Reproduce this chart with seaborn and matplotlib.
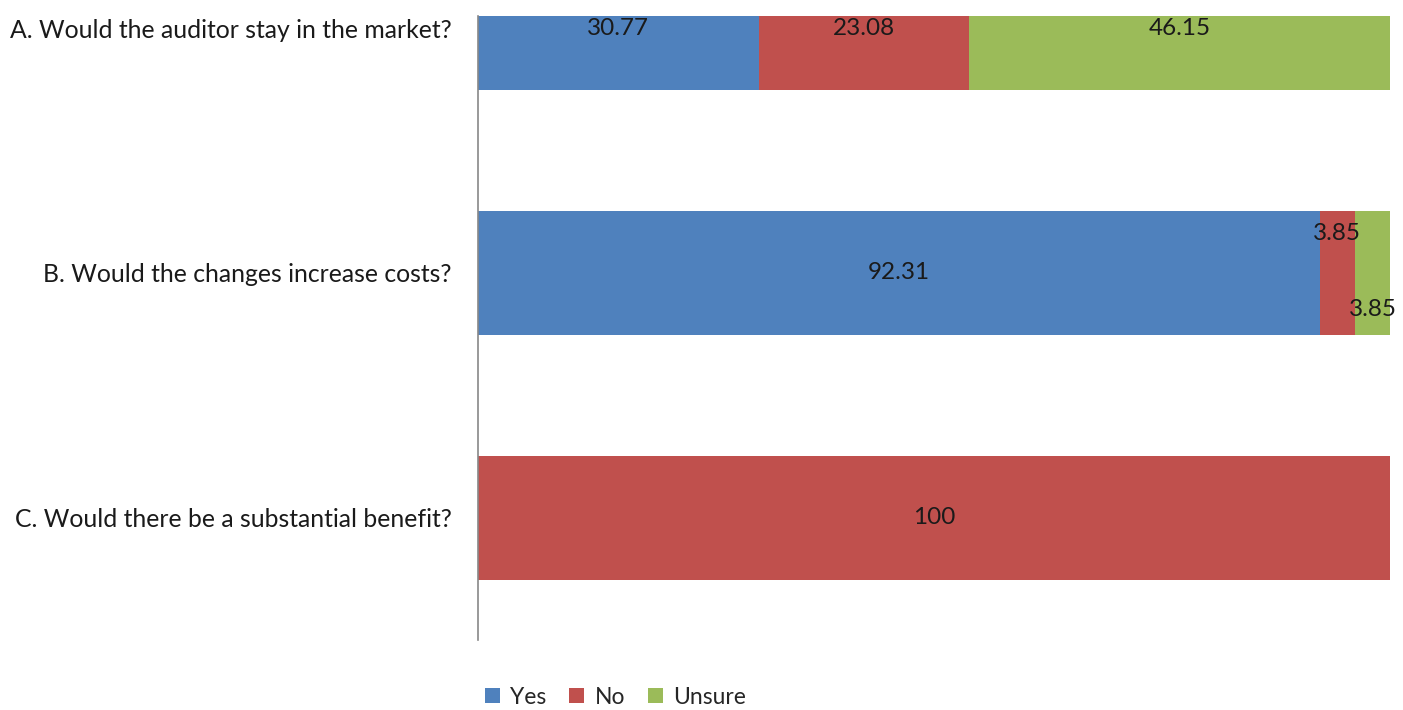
import numpy as np
import pandas as pd
import matplotlib
matplotlib.use("Agg")
import matplotlib.pyplot as plt
import seaborn as sns
from matplotlib.patches import Patch

questions = ["A. Would the auditor stay in the market?",
             "B. Would the changes increase costs?",
             "C. Would there be a substantial benefit?"]
yes = [30.77, 92.31, 0]
no = [23.08, 3.85, 100]
unsure = [46.15, 3.85, 0]
series = ["Yes", "No", "Unsure"]
colors = ["#4F81BD", "#C0504D", "#9BBB59"]

sns.set_style("white")
plt.rcParams['font.family'] = ['Lato', 'DejaVu Sans']

fig = plt.figure(figsize=(14.03, 7.10), dpi=100)
ax = fig.add_axes([478/1403, (710-640)/710, (1390-478)/1403, (640-16)/710])

yes_a = np.array(yes)
no_a = np.array(no)
un_a = np.array(unsure)
cum = [yes_a, yes_a + no_a, yes_a + no_a + un_a]
df = pd.DataFrame({"q": questions, "yes": cum[0], "no": cum[1], "unsure": cum[2]})

bw = 0.506
sns.barplot(data=df, y="q", x="unsure", color=colors[2], saturation=1, width=bw, orient="h", ax=ax)
sns.barplot(data=df, y="q", x="no", color=colors[1], saturation=1, width=bw, orient="h", ax=ax)
sns.barplot(data=df, y="q", x="yes", color=colors[0], saturation=1, width=bw, orient="h", ax=ax)

for p in ax.patches:
    p.set_edgecolor("none")
    p.set_linewidth(0)

fs = 17.5
vals = [yes_a, no_a, un_a]
starts = [np.zeros(3), yes_a, yes_a + no_a]
for i in range(3):
    for s in range(3):
        v = vals[s][i]
        if v <= 0:
            continue
        cx = starts[s][i] + v / 2
        cy = i
        if i == 1 and s == 1:
            cy = i - 0.16
        if i == 1 and s == 2:
            cy = i + 0.15
        label = f"{v:g}"
        ax.text(cx, cy, label, ha="center", va="center", fontsize=fs, color="#1a1a1a")

ax.set_xlim(0, 100)
ax.set_ylim(2.5, -0.05)
ax.set_xlabel("")
ax.set_ylabel("")
ax.set_xticks([])
ax.tick_params(axis="y", length=0, labelsize=17.8, pad=19, colors="#1a1a1a")
for sp in ["top", "right", "bottom"]:
    ax.spines[sp].set_visible(False)
ax.spines["left"].set_color("#888888")
ax.spines["left"].set_linewidth(1.2)

handles = [Patch(facecolor=c, edgecolor="none", label=l) for c, l in zip(colors, series)]
fig.legend(handles=handles, loc="center left", bbox_to_anchor=(485/1403, (710-697)/710),
           ncol=3, frameon=False, fontsize=16.5, handlelength=0.65, handleheight=0.65,
           handletextpad=0.45, columnspacing=1.0, borderaxespad=0, borderpad=0)

fig.savefig("out.png", dpi=100)
